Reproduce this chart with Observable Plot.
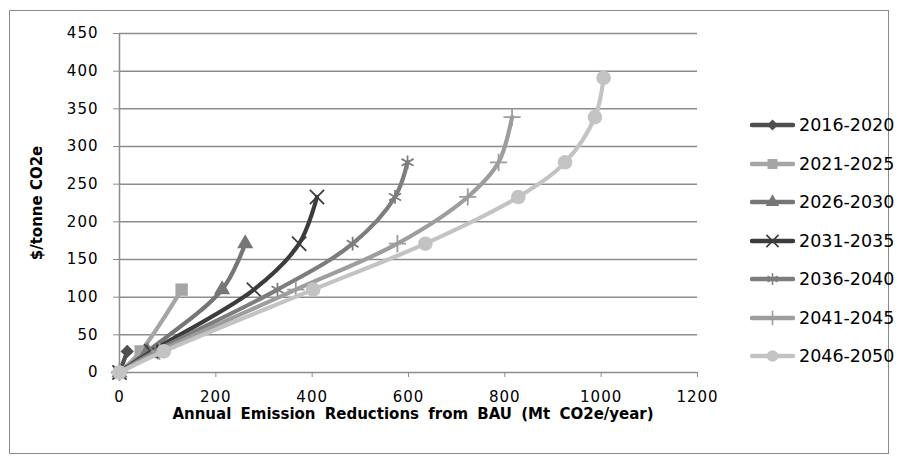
<!DOCTYPE html>
<html>
<head>
<meta charset="utf-8">
<script src="https://cdn.jsdelivr.net/npm/d3@7"></script>
<script src="https://cdn.jsdelivr.net/npm/@observablehq/plot@0.6"></script>
<style>
  html, body { margin: 0; padding: 0; background: #fff; }
  #wrap { position: relative; width: 899px; height: 464px; overflow: hidden; font-family: "DejaVu Sans", sans-serif; }
  #frame { position: absolute; left: 9px; top: 10px; width: 880px; height: 444px; border: 1px solid #8a8a8a; box-sizing: border-box; }
  #chart { position: absolute; left: 0; top: 0; }
  #chart g[aria-label="x-axis tick label"] text, #chart g[aria-label="y-axis tick label"] text { letter-spacing: 1px; }
  .ytitle { position: absolute; left: 37px; top: 203px; transform: translate(-50%, -50%) rotate(-90deg); font-weight: bold; font-size: 15px; white-space: nowrap; color: #000; }
  .xtitle { position: absolute; left: 413px; top: 414px; transform: translate(-50%, -50%); font-weight: bold; font-size: 15px; word-spacing: 4px; white-space: nowrap; color: #000; }
  #legend { position: absolute; left: 750px; top: 0; }
  .entry { position: absolute; left: 0; height: 24px; display: flex; align-items: center; white-space: nowrap; font-size: 17.5px; color: #000; }
  .entry svg { margin-right: 4px; }
</style>
</head>
<body>
<div id="wrap">
  <div id="frame"></div>
  <div id="chart"></div>
  <div class="ytitle">$/tonne CO2e</div>
  <div class="xtitle">Annual Emission Reductions from BAU (Mt CO2e/year)</div>
  <div id="legend"></div>
</div>
<script>
// ---- data ----
const periods = ["2016-2020", "2021-2025", "2026-2030", "2031-2035", "2036-2040", "2041-2045", "2046-2050"];
const priceLevels = [0, 28, 110, 171, 233, 279, 339, 391];   // $/tonne CO2e
const red2016 = [0, 16];
const red2021 = [0, 44, 129];
const red2026 = [0, 58, 213, 261];
const red2031 = [0, 66, 279, 373, 410];
const red2036 = [0, 74, 328, 484, 572, 598];
const red2041 = [0, 83, 366, 577, 723, 787, 815];
const red2046 = [0, 92, 402, 635, 828, 925, 987, 1005];
const reductions = [red2016, red2021, red2026, red2031, red2036, red2041, red2046];
const xTicks = [0, 200, 400, 600, 800, 1000, 1200];
const yTicks = [0, 50, 100, 150, 200, 250, 300, 350, 400, 450];

// ---- styles ----
const colors = ["#4f4f4f", "#a5a5a5", "#767676", "#3c3c3c", "#7d7d7d", "#9d9d9d", "#c3c3c3"];
const symbols = ["diamond2", "square", "triangle", "times", "asterisk", "plus", "circle"];
const filled = [true, true, true, false, false, false, true];
const radii = [6.0, 7.0, 6.0, 6.5, 6.5, 5.6, 7.3];
const legendRadii = [5.0, 5.6, 5.0, 5.6, 5.4, 4.8, 5.8];

const rows = [];
reductions.forEach((xs, i) => xs.forEach((x, j) => rows.push({period: periods[i], idx: i, x, y: priceLevels[j]})));

const marks = [
  Plot.gridY(yTicks, {stroke: "#8c8c8c", strokeOpacity: 1, strokeWidth: 1.5}),
  Plot.ruleX([0], {stroke: "#8c8c8c", strokeWidth: 1.5}),
  Plot.axisY({ticks: yTicks, tickSize: 6, tickPadding: 15, stroke: "#8c8c8c", label: null, fontSize: 15, tickFormat: d => String(d)}),
  Plot.axisX({ticks: xTicks, tickSize: 5, tickPadding: 14, stroke: "#8c8c8c", label: null, fontSize: 15, tickFormat: d => String(d)})
];
periods.forEach((p, i) => {
  const data = rows.filter(d => d.idx === i);
  marks.push(Plot.line(data, {x: "x", y: "y", stroke: colors[i], strokeWidth: 4.2, curve: "catmull-rom"}));
  marks.push(Plot.dot(data, {
    x: "x", y: "y", r: radii[i], symbol: symbols[i],
    fill: filled[i] ? colors[i] : "none",
    stroke: filled[i] ? "none" : colors[i],
    strokeWidth: filled[i] ? 0 : 1.8
  }));
});

const plot = Plot.plot({
  width: 899, height: 464,
  marginLeft: 119, marginRight: 202, marginTop: 33, marginBottom: 92,
  x: {domain: [0, 1200]},
  y: {domain: [0, 450]},
  style: {fontFamily: "DejaVu Sans, sans-serif", fontSize: "15px", color: "#000", background: "transparent"},
  marks
});
document.getElementById("chart").appendChild(plot);

// ---- legend ----
const legend = d3.select("#legend");
const symbolMap = {diamond2: d3.symbolDiamond2, square: d3.symbolSquare, triangle: d3.symbolTriangle, times: d3.symbolTimes, asterisk: d3.symbolAsterisk, plus: d3.symbolPlus, circle: d3.symbolCircle};
const legendTop = 125, legendStep = 38.5;
periods.forEach((p, i) => {
  const e = legend.append("div").attr("class", "entry").style("top", (legendTop + i * legendStep - 12) + "px");
  const s = e.append("svg").attr("width", 45).attr("height", 24);
  s.append("line").attr("x1", 2).attr("x2", 43).attr("y1", 12).attr("y2", 12)
    .attr("stroke", colors[i]).attr("stroke-width", 4.5).attr("stroke-linecap", "round");
  s.append("path").attr("transform", "translate(22.5,12)")
    .attr("d", d3.symbol(symbolMap[symbols[i]], legendRadii[i] * legendRadii[i] * Math.PI)())
    .attr("fill", filled[i] ? colors[i] : "none")
    .attr("stroke", filled[i] ? "none" : colors[i])
    .attr("stroke-width", 1.6);
  e.append("span").text(p);
});
</script>
</body>
</html>
